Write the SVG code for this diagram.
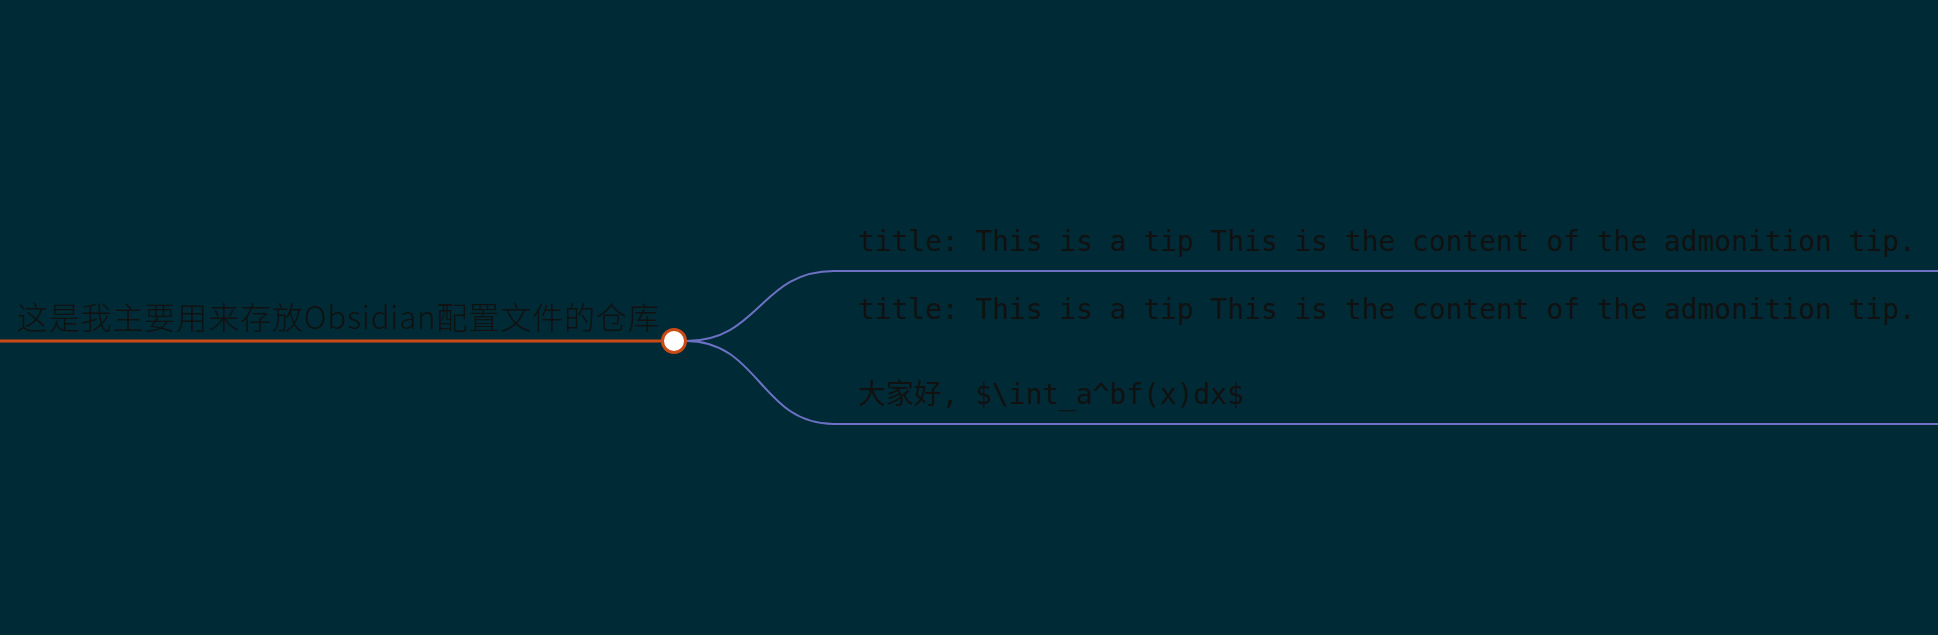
<svg xmlns="http://www.w3.org/2000/svg" width="1938" height="635" viewBox="0 0 1938 635">
<style>
.bg{fill:#002b36}
.edge{fill:none;stroke:#6c71c4;stroke-width:2}
.root-line{fill:none;stroke:#cb4b16;stroke-width:3}
.root-text{font-family:"Noto Sans CJK SC","Noto Sans",sans-serif;font-size:31px;font-weight:300;fill:#111111}
.leaf-text{font-family:"DejaVu Sans Mono","Noto Sans CJK SC",monospace;font-size:27.9px;fill:#111111}
.dot{fill:#ffffff;stroke:#cb4b16;stroke-width:3}
</style>
<rect class="bg" x="0" y="0" width="1938" height="635"/>
<g id="connectors">
<path class="root-line" d="M0 341 L662 341"/>
<path class="edge" d="M686 341 C760 341 760 271 834 271 L1938 271"/>
<path class="edge" d="M686 341 C760 341 760 424 834 424 L1938 424"/>
</g>
<g id="root">
<text class="root-text" x="17" y="329" textLength="642" lengthAdjust="spacing">这是我主要用来存放Obsidian配置文件的仓库</text>
<circle class="dot" cx="674" cy="341" r="11.5"/>
</g>
<g id="node1">
<text class="leaf-text" x="858" y="251">title: This is a tip This is the content of the admonition tip.</text>
<text class="leaf-text" x="858" y="319">title: This is a tip This is the content of the admonition tip.</text>
</g>
<g id="node2">
<text class="leaf-text" x="858" y="404">大家好, $\int_a^bf(x)dx$</text>
</g>
</svg>
